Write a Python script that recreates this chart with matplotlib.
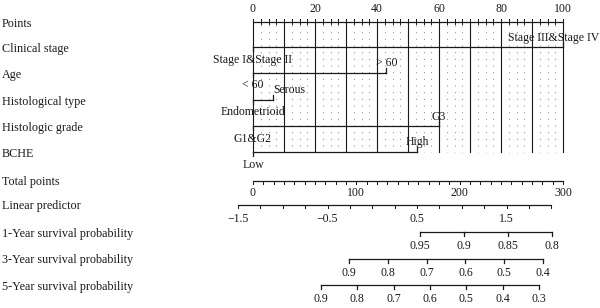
import matplotlib
matplotlib.use("Agg")
import matplotlib.pyplot as plt
import numpy as np

plt.rcParams['font.family'] = ['Liberation Serif', 'DejaVu Serif']

# ---------------- data ----------------
row_labels = ["Points", "Clinical stage", "Age", "Histological type",
              "Histologic grade", "BCHE", "Total points", "Linear predictor",
              "1-Year survival probability", "3-Year survival probability",
              "5-Year survival probability"]

var_names = ["Clinical stage", "Age", "Histological type", "Histologic grade", "BCHE"]
stage_levels = ["Stage I&Stage II", "Stage III&Stage IV"]
stage_points = [0, 100]
age_levels = ["< 60", "> 60"]
age_points = [0, 43]
histtype_levels = ["Endometrioid", "Serous"]
histtype_points = [0, 6.5]
grade_levels = ["G1&G2", "G3"]
grade_points = [0, 60]
bche_levels = ["Low", "High"]
bche_points = [0, 53]

points_labels = [0, 20, 40, 60, 80, 100]
points_minor_step = 2.5
points_grid_step = 10

total_points_max = 300
total_labels = [0, 100, 200, 300]
total_minor_step = 10

# linear predictor at total points 0 and 300
lp_at_total = [-1.333, 2.131]
lp_labels = [-1.5, -0.5, 0.5, 1.5]
lp_ticks_range = [-1.5, 2.0]
lp_minor_step = 0.25

# survival axes: tick values, and (survival, LP) calibration of the two end ticks
surv1_ticks = [0.95, 0.9, 0.85, 0.8]
surv1_calib = [(0.95, 0.533), (0.8, 2.008)]
surv3_ticks = [0.9, 0.8, 0.7, 0.6, 0.5, 0.4]
surv3_calib = [(0.9, -0.260), (0.4, 1.908)]
surv5_ticks = [0.9, 0.8, 0.7, 0.6, 0.5, 0.4, 0.3]
surv5_calib = [(0.9, -0.573), (0.3, 1.863)]

# ---------------- layout ----------------
W, H = 600, 308
X0_PX, X100_PX = 253, 563        # pixel location of 0 and 100 points
row_y = [22, 47, 73, 99.5, 126, 152, 180.5, 204.5, 232, 258.5, 285]
label_y_shift = 2.0
fs = 8.7
tick_fs = 8.5
col = "#1a1a1a"
lw = 0.9

fig = plt.figure(figsize=(W / 100, H / 100), dpi=100)
ax = fig.add_axes([0, 0, 1, 1])
ppx = (X100_PX - X0_PX) / 100.0
ax.set_xlim(-X0_PX / ppx, (W - X0_PX) / ppx)
ax.set_ylim(H, 0)
ax.axis("off")

ytr = ax.get_yaxis_transform()
for lab, y in zip(row_labels, row_y):
    ax.text(2 / W, y + label_y_shift, lab, transform=ytr, ha="left", va="center",
            fontsize=fs, color=col)

# ---- Points axis ----
yp = row_y[0]
ybot = row_y[5]
ax.plot([0, 100], [yp, yp], color=col, lw=lw, solid_capstyle="butt")
for t in np.arange(0, 100 + 1e-9, points_minor_step):
    ax.plot([t, t], [yp - 3, yp + 1.5], color=col, lw=lw * 0.8)
    if abs(t / points_grid_step - round(t / points_grid_step)) < 1e-9:
        ax.plot([t, t], [yp, ybot], color=col, lw=lw * 0.9)
    else:
        ax.plot([t, t], [yp + 3, ybot], color="#9a9a9a", lw=0.8,
                linestyle=(0, (1, 5)))
for t in points_labels:
    ax.text(t, yp - 13, str(t), ha="center", va="center", fontsize=tick_fs, color=col)

# ---- variable axes ----
var_levels = [stage_levels, age_levels, histtype_levels, grade_levels, bche_levels]
var_points = [stage_points, age_points, histtype_points, grade_points, bche_points]
special_align = {"Serous": "left"}
for i, (levs, pts) in enumerate(zip(var_levels, var_points)):
    y = row_y[i + 1]
    ax.plot([min(pts), max(pts)], [y, y], color=col, lw=lw)
    for j, (lv, p) in enumerate(zip(levs, pts)):
        up = (j % 2 == 1)
        if up:
            ax.plot([p, p], [y, y - 5], color=col, lw=lw)
            ty = y - 9.5
        else:
            ax.plot([p, p], [y, y + 4], color=col, lw=lw)
            ty = y + 12.5
        if p >= 100:
            ax.text(0.999, ty, lv, transform=ytr, ha="right", va="center",
                    fontsize=tick_fs, color=col)
        else:
            ha = special_align.get(lv, "center")
            ax.text(p, ty, lv, ha=ha, va="center", fontsize=tick_fs, color=col)

# ---- Total points ----
def tp_to_x(tp):
    return tp * 100.0 / total_points_max

y = row_y[6]
ax.plot([tp_to_x(0), tp_to_x(total_points_max)], [y, y], color=col, lw=lw)
for t in np.arange(0, total_points_max + 1e-9, total_minor_step):
    ax.plot([tp_to_x(t)] * 2, [y, y + 3], color=col, lw=lw * 0.8)
for t in total_labels:
    ax.text(tp_to_x(t), y + 13, str(t), ha="center", va="center", fontsize=tick_fs, color=col)

# ---- Linear predictor ----
def lp_to_x(lp):
    tp = (lp - lp_at_total[0]) / (lp_at_total[1] - lp_at_total[0]) * total_points_max
    return tp_to_x(tp)

def fmt(v):
    s = ("%g" % v)
    return s.replace("-", "\u2212")

y = row_y[7]
ax.plot([lp_to_x(lp_ticks_range[0]), lp_to_x(lp_ticks_range[1])], [y, y], color=col, lw=lw)
for t in np.arange(lp_ticks_range[0], lp_ticks_range[1] + 1e-9, lp_minor_step):
    ax.plot([lp_to_x(t)] * 2, [y, y + 3], color=col, lw=lw * 0.8)
for t in lp_labels:
    ax.text(lp_to_x(t), y + 15, fmt(t), ha="center", va="center", fontsize=tick_fs, color=col)

# ---- survival axes ----
def surv_to_x(s, calib):
    (s0, l0), (s1, l1) = calib
    lp = l0 + (s - s0) / (s1 - s0) * (l1 - l0)
    return lp_to_x(lp)

for k, (ticks, calib) in enumerate([(surv1_ticks, surv1_calib),
                                    (surv3_ticks, surv3_calib),
                                    (surv5_ticks, surv5_calib)]):
    y = row_y[8 + k]
    xs = [surv_to_x(s, calib) for s in ticks]
    ax.plot([min(xs), max(xs)], [y, y], color=col, lw=lw)
    for s, x in zip(ticks, xs):
        ax.plot([x, x], [y, y + 4], color=col, lw=lw)
        ax.text(x, y + 14, fmt(s), ha="center", va="center", fontsize=tick_fs, color=col)

fig.savefig("out.png", dpi=100, facecolor="white")
